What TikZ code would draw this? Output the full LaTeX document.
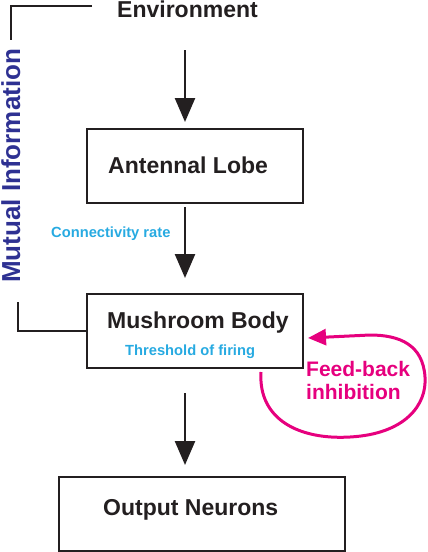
\documentclass[tikz,border=0pt]{standalone}
\usepackage{fontspec}
\setmainfont{Liberation Sans}
\usetikzlibrary{arrows.meta}
\definecolor{dblue}{HTML}{2E3192}
\definecolor{cyanl}{HTML}{27AAE1}
\definecolor{mag}{HTML}{E6007E}
\definecolor{ink}{HTML}{231F20}
\begin{document}
\begin{tikzpicture}[x=1pt,y=-1pt,
  box/.style={draw=ink, line width=2pt, inner sep=0pt, minimum height=74pt},
  big/.style={inner sep=0pt, anchor=base west, text=ink, font=\fontsize{23}{27}\selectfont\bfseries},
  small/.style={inner sep=0pt, anchor=base west, text=cyanl, font=\fontsize{14.7}{17}\selectfont\bfseries},
  fb/.style={inner sep=0pt, anchor=base west, text=mag, font=\fontsize{21}{24}\selectfont\bfseries},
  flow/.style={draw=ink, line width=2.5pt, -{Triangle[length=24pt,width=20pt]}},
  bracket/.style={draw=ink, line width=2pt},
  loop/.style={draw=mag, line width=3pt, -{Triangle[length=18pt,width=16pt]}}]
\useasboundingbox (0,0) rectangle (428,552);
% boxes
\node[box, minimum width=216pt] (al) at (195,166) {};
\node[box, minimum width=216pt] (mb) at (195,331) {};
\node[box, minimum width=286pt] (on) at (202,514) {};
% texts
\node[big] (env) at (117,17) {Environment};
\node[big] (alt) at (108,173) {Antennal Lobe};
\node[big] (mbt) at (107,328) {Mushroom Body};
\node[big] (ont) at (103,515) {Output Neurons};
\node[small] (conn) at (51,237) {Connectivity rate};
\node[small] (thr) at (125,355) {Threshold of firing};
\node[fb] (fb1) at (306,376) {Feed-back};
\node[fb] (fb2) at (306,399) {inhibition};
\node[inner sep=0pt, anchor=base west, rotate=90, text=dblue,
      font=\fontsize{26}{30}\selectfont\bfseries] (mi) at (20,283) {Mutual Information};
% arrow coordinates
\coordinate (a1s) at (185,50);  \coordinate (a1e) at (185,122);
\coordinate (a2s) at (185,207); \coordinate (a2e) at (185,278);
\coordinate (a3s) at (185,393); \coordinate (a3e) at (185,465);
\draw[flow] (a1s) -- (a1e);
\draw[flow] (a2s) -- (a2e);
\draw[flow] (a3s) -- (a3e);
% brackets
\coordinate (t1) at (92,6); \coordinate (t2) at (11,40);
\draw[bracket] (t1) -| (t2);
\coordinate (b1) at (18,302);
\draw[bracket] (b1) |- (mb.west);
% feedback loop
\coordinate (fs) at (261,372);
\coordinate (fe) at (308,338);
\draw[loop] (fs) .. controls (258,420) and (300,440) .. (350,437)
  .. controls (405,434) and (427,405) .. (425,377)
  .. controls (423,345) and (400,335) .. (370,335) -- (fe);
\end{tikzpicture}
\end{document}
